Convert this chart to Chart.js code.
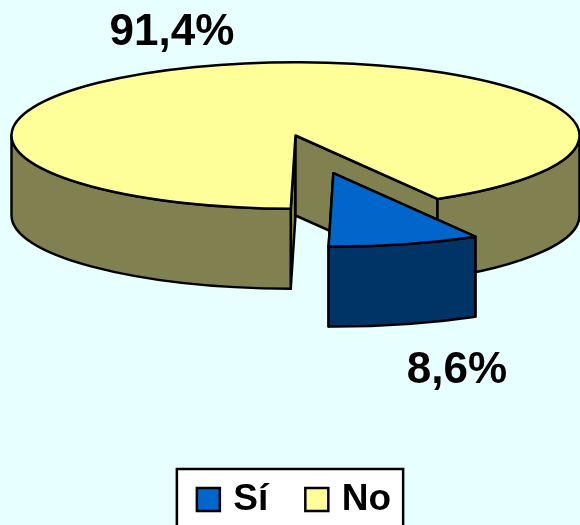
<!DOCTYPE html>
<html>
<head>
<meta charset="utf-8">
<style>
html,body{margin:0;padding:0;background:#E8FFFF;overflow:hidden}
#wrap{position:relative;width:580px;height:525px}
</style>
<script src="https://cdn.jsdelivr.net/npm/chart.js@4/dist/chart.umd.min.js"></script>
</head>
<body>
<div id="wrap"><canvas id="c" width="580" height="525"></canvas></div>
<script>
const categories = ['Sí', 'No'];
const values = [8.6, 91.4];
const topColors = ['#0066CC', '#FFFF99'];
const wallColors = ['#003366', '#808050'];
const explode = [151, 0];

const FONT = '"Liberation Sans", Arial, sans-serif';
const PAGE = '#E8FFFF', INK = '#000000';
const TILT = 0.258, DEPTH = 80, CENTER_X = 295.5, CENTER_Y = 135.5, LINE = 2.5;
const labelCenters = [[457, 371], [172, 33]];

function fmt(v){ return v.toFixed(1).replace('.', ',') + '%'; }

const pie3d = {
  id: 'pie3d',
  beforeDraw(chart){
    const ctx = chart.ctx, lg = chart.legend;
    ctx.save();
    ctx.fillStyle = PAGE;
    ctx.fillRect(0, 0, chart.width, chart.height);
    const hb = lg.legendHitBoxes;
    const x0 = hb[0].left - 25, x1 = hb[1].left + hb[1].width + 12;
    ctx.fillStyle = '#FFFFFF';
    ctx.strokeStyle = INK;
    ctx.lineWidth = LINE;
    ctx.beginPath();
    ctx.rect(x0, 469, x1 - x0, 70);
    ctx.fill();
    ctx.stroke();
    ctx.restore();
  },
  beforeDatasetDraw(chart, args){
    const ctx = chart.ctx;
    // painter's order: far slice first, exploded slice in front
    const order = args.meta.data.map((_, i) => i).sort((a, b) => explode[a] - explode[b]);
    order.forEach(i => {
      const arc = args.meta.data[i];
      const R = arc.outerRadius, a0 = arc.startAngle, a1 = arc.endAngle;
      const mid = (a0 + a1) / 2;
      const cx = CENTER_X + Math.cos(mid) * explode[i];
      const cy = CENTER_Y + Math.sin(mid) * explode[i] * TILT;
      const rim = a => [cx + Math.cos(a) * R, cy + Math.sin(a) * R * TILT];

      ctx.save();
      ctx.lineJoin = 'round';
      ctx.lineWidth = LINE;
      ctx.strokeStyle = INK;
      ctx.fillStyle = wallColors[i];

      // flat cut walls
      [a0, a1].forEach(a => {
        const p = rim(a);
        ctx.beginPath();
        ctx.moveTo(cx, cy);
        ctx.lineTo(p[0], p[1]);
        ctx.lineTo(p[0], p[1] + DEPTH);
        ctx.lineTo(cx, cy + DEPTH);
        ctx.closePath();
        ctx.fill();
        ctx.stroke();
      });

      // outer curved wall, only where it faces the viewer
      for (let k = 0; k < 2; k++) {
        const s = Math.max(a0, 2 * Math.PI * k), e = Math.min(a1, Math.PI + 2 * Math.PI * k);
        if (e <= s) continue;
        ctx.beginPath();
        ctx.ellipse(cx, cy, R, R * TILT, 0, s, e);
        ctx.ellipse(cx, cy + DEPTH, R, R * TILT, 0, e, s, true);
        ctx.closePath();
        ctx.fill();
        ctx.stroke();
      }

      // top face: the library's arc under a flattening transform
      ctx.save();
      ctx.translate(cx, cy);
      ctx.scale(1, TILT);
      ctx.translate(-arc.x, -arc.y);
      arc.draw(ctx);
      ctx.restore();

      ctx.beginPath();
      ctx.moveTo(cx, cy);
      ctx.ellipse(cx, cy, R, R * TILT, 0, a0, a1);
      ctx.closePath();
      ctx.stroke();
      ctx.restore();
    });
    return false;
  },
  afterDraw(chart){
    const ctx = chart.ctx;
    ctx.save();
    ctx.fillStyle = INK;
    ctx.font = 'bold 44px ' + FONT;
    ctx.textAlign = 'center';
    ctx.textBaseline = 'middle';
    values.forEach((v, i) => ctx.fillText(fmt(v), labelCenters[i][0], labelCenters[i][1]));
    ctx.restore();
  }
};

new Chart(document.getElementById('c'), {
  type: 'pie',
  data: {
    labels: categories,
    datasets: [{ data: values, backgroundColor: topColors, borderWidth: 0 }]
  },
  options: {
    responsive: false,
    animation: false,
    rotation: 150,
    radius: 284,
    layout: { padding: { left: 13, bottom: -3 } },
    plugins: {
      tooltip: { enabled: false },
      legend: {
        position: 'bottom',
        labels: {
          usePointStyle: true,
          boxWidth: 13,
          boxHeight: 23,
          padding: 42,
          color: INK,
          font: { family: FONT, size: 37, weight: 'bold' },
          generateLabels: chart => categories.map((t, i) => ({
            text: t,
            fillStyle: topColors[i],
            strokeStyle: INK,
            lineWidth: LINE,
            pointStyle: 'rect',
            hidden: false,
            index: i
          }))
        }
      }
    }
  },
  plugins: [pie3d]
});
</script>
</body>
</html>
